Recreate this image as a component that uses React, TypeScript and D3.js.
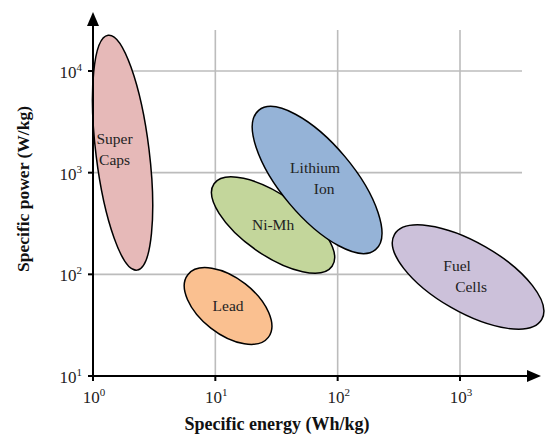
import React from "react";
import * as d3 from "d3";

// technologies, drawn in this order (Lithium over Ni-Mh)
const names = ["Super Caps", "Lead", "Ni-Mh", "Lithium Ion", "Fuel Cells"];
// label lines per technology
const labelLines = [["Super", "Caps"], ["Lead"], ["Ni-Mh"], ["Lithium", "Ion"], ["Fuel", "Cells"]];
// ends of each ellipse's long axis, in Wh/kg and W/kg
const energyFrom = [1.33, 5.96, 9.76, 22.6, 291];
const powerFrom = [22500, 99.2, 778, 4100, 246];
const energyTo = [2.29, 27.1, 90, 204, 4660];
const powerTo = [110, 24.0, 120, 175, 36];
// short axis as a share of the long axis
const widthRatio = [0.225, 0.55, 0.42, 0.4, 0.41];
const fills = ["#e6b9b8", "#fac090", "#c3d69b", "#95b3d7", "#ccc1da"];

const xTicks = [1, 10, 100, 1000];
const yTicks = [10, 100, 1000, 10000];

const W = 546;
const H = 440;

const App = () => {
  const x = d3.scaleLog().domain([1, 1000]).range([93, 460]);
  const y = d3.scaleLog().domain([10, 10000]).range([376, 71]);

  const x0 = x(1);
  const y0 = y(10);
  const xEnd = 541;
  const yEnd = 12;
  const gridRight = 522;
  const gridTop = 30;

  const ellipses = names.map((name, i) => {
    const ax = x(energyFrom[i]);
    const ay = y(powerFrom[i]);
    const bx = x(energyTo[i]);
    const by = y(powerTo[i]);
    const cx = (ax + bx) / 2;
    const cy = (ay + by) / 2;
    const rx = Math.hypot(bx - ax, by - ay) / 2;
    const angle = (Math.atan2(by - ay, bx - ax) * 180) / Math.PI;
    return { name, cx, cy, rx, ry: rx * widthRatio[i], angle, lines: labelLines[i], fill: fills[i] };
  });

  const font = "'Liberation Serif', 'Times New Roman', serif";

  return (
    <svg width={W} height={H} style={{ position: "absolute", left: 0, top: 0 }} fontFamily={font}>
      <rect width={W} height={H} fill="#fff" />
      {/* grid */}
      {yTicks.slice(1).map((t) => (
        <line key={"gy" + t} x1={x0} x2={gridRight} y1={y(t)} y2={y(t)} stroke="#bcbcbc" strokeWidth={1.6} />
      ))}
      {xTicks.slice(1).map((t) => (
        <line key={"gx" + t} x1={x(t)} x2={x(t)} y1={gridTop} y2={y0} stroke="#bcbcbc" strokeWidth={1.6} />
      ))}

      {/* ellipses */}
      {ellipses.map((e) => (
        <ellipse
          key={e.name}
          cx={0}
          cy={0}
          rx={e.rx}
          ry={e.ry}
          transform={`translate(${e.cx},${e.cy}) rotate(${e.angle})`}
          fill={e.fill}
          stroke="#000"
          strokeWidth={1.5}
        />
      ))}

      {/* labels */}
      {ellipses.map((e) => {
        const lh = 21;
        const top = e.cy - ((e.lines.length - 1) * lh) / 2;
        let dxs: number[] = [0, 0];
        let dy = 5;
        if (e.name === "Super Caps") { dxs = [-8, -8]; dy = 2; }
        if (e.name === "Lithium Ion") { dxs = [-2, 7]; dy = 4; }
        if (e.name === "Fuel Cells") { dxs = [-11, 3]; dy = 4; }
        return e.lines.map((l, j) => (
          <text
            key={e.name + l}
            x={e.cx + dxs[j]}
            y={top + j * lh + dy}
            textAnchor="middle"
            fontSize={15.5}
            fill="#222"
          >
            {l}
          </text>
        ));
      })}

      {/* axes */}
      <line x1={x0} x2={xEnd - 12} y1={y0} y2={y0} stroke="#000" strokeWidth={2} />
      <line x1={x0} x2={x0} y1={y0 + 1} y2={yEnd + 12} stroke="#000" strokeWidth={2} />
      <path d={`M${xEnd},${y0} L${xEnd - 14},${y0 - 6} L${xEnd - 14},${y0 + 6} Z`} fill="#000" />
      <path d={`M${x0},${yEnd} L${x0 - 6},${yEnd + 14} L${x0 + 6},${yEnd + 14} Z`} fill="#000" />

      {/* ticks */}
      {xTicks.map((t) => (
        <line key={"tx" + t} x1={x(t)} x2={x(t)} y1={y0} y2={y0 + 5} stroke="#000" strokeWidth={2} />
      ))}
      {yTicks.map((t) => (
        <line key={"ty" + t} x1={x0 - 5} x2={x0} y1={y(t)} y2={y(t)} stroke="#000" strokeWidth={2} />
      ))}

      {/* tick labels */}
      {xTicks.map((t) => (
        <text key={"lx" + t} x={x(t) + 1} y={y0 + 27} textAnchor="middle" fontSize={17} fill="#222">
          10
          <tspan dy={-7} fontSize={11}>
            {Math.round(Math.log10(t))}
          </tspan>
        </text>
      ))}
      {yTicks.map((t) => (
        <text key={"ly" + t} x={x0 - 11} y={y(t) + 7} textAnchor="end" fontSize={17} fill="#222">
          10
          <tspan dy={-7} fontSize={11}>
            {Math.round(Math.log10(t))}
          </tspan>
        </text>
      ))}

      {/* axis titles */}
      <text x={277} y={430} textAnchor="middle" fontSize={18} fontWeight="bold" fill="#111">
        Specific energy (Wh/kg)
      </text>
      <text
        transform={`translate(29,189) rotate(-90)`}
        textAnchor="middle"
        fontSize={17.5}
        fontWeight="bold"
        fill="#111"
      >
        Specific power (W/kg)
      </text>
    </svg>
  );
};

export default App;
